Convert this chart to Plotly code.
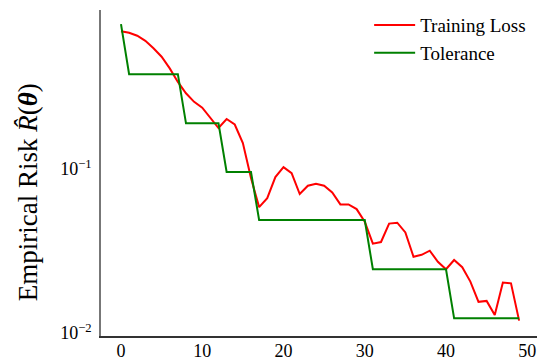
import plotly.graph_objects as go

epochs = list(range(50))

training_loss = [
    0.693, 0.678, 0.650, 0.605, 0.545, 0.484, 0.411, 0.340, 0.290, 0.257,
    0.237, 0.205, 0.178, 0.202, 0.187, 0.144, 0.0881, 0.0586, 0.0665, 0.0894,
    0.1028, 0.0945, 0.0704, 0.0791, 0.0814, 0.0791, 0.0721, 0.0609, 0.0609, 0.0570,
    0.0477, 0.0351, 0.0359, 0.0465, 0.0471, 0.0411, 0.0292, 0.0300, 0.0318, 0.0272,
    0.0245, 0.0279, 0.0252, 0.0206, 0.0155, 0.0157, 0.0129, 0.0203, 0.0201, 0.0119,
]

tolerance = (
    [0.766]
    + [0.379] * 7
    + [0.190] * 5
    + [0.096] * 4
    + [0.0489] * 14
    + [0.0245] * 10
    + [0.0123] * 9
)

x_tick_vals = [0, 10, 20, 30, 40, 50]
y_tick_vals = [0.01, 0.1]
y_tick_text = ["10<sup>\u22122</sup>", "10<sup>\u22121</sup>"]

SERIF = "Liberation Serif, Times New Roman, serif"

fig = go.Figure()
fig.add_trace(go.Scatter(x=epochs, y=training_loss, mode="lines", name="Training Loss",
                         line=dict(color="#ff0000", width=2)))
fig.add_trace(go.Scatter(x=epochs, y=tolerance, mode="lines", name="Tolerance",
                         line=dict(color="#008000", width=2)))

fig.update_layout(
    width=537, height=360,
    margin=dict(l=101, r=0, t=10, b=24),
    paper_bgcolor="white", plot_bgcolor="white",
    font=dict(family=SERIF, color="black", size=18),
    showlegend=True,
    legend=dict(x=0.615, y=1.012, xanchor="left", yanchor="top",
                font=dict(size=19, family=SERIF), bgcolor="rgba(0,0,0,0)",
                itemwidth=41),
    xaxis=dict(range=[-2.46, 51.2], tickvals=x_tick_vals, showgrid=False, zeroline=False,
               showline=True, linecolor="#333333", linewidth=1.5, ticks="",
               automargin=False, ticklabelstandoff=-2,
               tickfont=dict(size=18, family=SERIF)),
    yaxis=dict(type="log", range=[-2.018, -0.030], tickvals=y_tick_vals, ticktext=y_tick_text,
               showgrid=False, zeroline=False, showline=True, linecolor="#777777",
               linewidth=1.5, ticks="", automargin=False, ticklabelstandoff=4,
               tickfont=dict(size=18, family=SERIF)),
    annotations=[dict(text="Empirical Risk <i>R\u0302</i>(<b><i>\u03b8</i></b>)",
                      xref="paper", yref="paper", x=-0.168, y=0.44,
                      xanchor="center", yanchor="middle", textangle=-90, showarrow=False,
                      font=dict(size=27, family=SERIF, color="black"))],
)

fig.write_html("out.html", config={"displayModeBar": False},
               post_script="document.body.style.margin='0';document.body.style.padding='0';")
